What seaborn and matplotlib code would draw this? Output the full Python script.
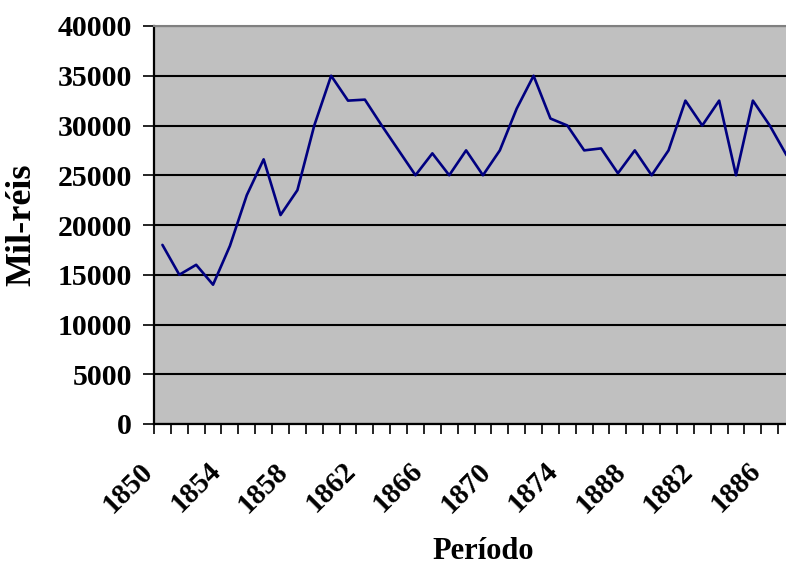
import matplotlib
matplotlib.use("Agg")
import matplotlib.pyplot as plt
import matplotlib.transforms as mtransforms
import numpy as np
import pandas as pd
import seaborn as sns

# Annual values (mil-réis), 1850-1887
anos = [1850, 1851, 1852, 1853, 1854, 1855, 1856, 1857, 1858, 1859,
        1860, 1861, 1862, 1863, 1864, 1865, 1866, 1867, 1868, 1869,
        1870, 1871, 1872, 1873, 1874, 1875, 1876, 1877, 1878, 1879,
        1880, 1881, 1882, 1883, 1884, 1885, 1886, 1887]
valores = [18000, 15000, 16000, 14000, 17900, 23000, 26600, 21000, 23500, 30000,
           35000, 32500, 32600, 30000, 27500, 25000, 27200, 25000, 27500, 25000,
           27500, 31700, 35000, 30700, 30000, 27500, 27700, 25200, 27500, 25000,
           27500, 32500, 30000, 32500, 25000, 32500, 30000, 27000]

# Category labels shown every fourth year
rotulos_pos = [0, 4, 8, 12, 16, 20, 24, 28, 32, 36]
rotulos = ["1850", "1854", "1858", "1862", "1866", "1870", "1874", "1888", "1882", "1886"]
y_ticks = [0, 5000, 10000, 15000, 20000, 25000, 30000, 35000, 40000]

n_categorias = 39  # axis room for 1850-1888

sns.set_style("white")
plt.rcParams["font.family"] = ["Liberation Serif", "DejaVu Serif"]
plt.rcParams["font.weight"] = "bold"
for key in ["text.color", "axes.labelcolor", "xtick.color", "ytick.color"]:
    plt.rcParams[key] = "black"

df = pd.DataFrame({"pos": np.arange(len(anos)), "ano": anos, "valor": valores})

W, H = 786, 566
fig = plt.figure(figsize=(W / 100, H / 100), dpi=100)
left, bottom, top = 154, 424, 26
cat_w = 16.87
ax = fig.add_axes([left / W, (H - bottom) / H, n_categorias * cat_w / W, (bottom - top) / H])
ax.set_facecolor("#C0C0C0")

sns.lineplot(data=df, x="pos", y="valor", color="#000080", linewidth=1.9, ax=ax)

ax.set_xlim(-0.5, n_categorias - 0.5)
ax.set_ylim(0, 40000)

# horizontal gridlines
ax.set_yticks(y_ticks)
ax.set_yticklabels([str(v) for v in y_ticks], fontsize=21.5, fontweight="bold")
ax.yaxis.grid(True, color="black", linewidth=1.5)
ax.xaxis.grid(False)
ax.set_axisbelow(True)

# category boundary ticks (no labels) and labelled year positions
ax.set_xticks(np.arange(-0.5, n_categorias, 1.0))
ax.set_xticklabels([])
ax.set_xticks(rotulos_pos, minor=True)
ax.set_xticklabels(rotulos, minor=True, fontsize=21, fontweight="bold",
                   rotation=45, ha="right", va="top", rotation_mode="anchor")

ax.tick_params(axis="x", which="major", direction="out", length=7.5, width=1.2,
               color="black", bottom=True)
ax.tick_params(axis="x", which="minor", length=0, pad=24, bottom=True)
ax.tick_params(axis="y", which="major", direction="out", length=8, width=1.2,
               color="black", left=True, pad=8)

shift = mtransforms.ScaledTranslation(-23 / 100, 0, fig.dpi_scale_trans)
for lab in ax.xaxis.get_minorticklabels():
    lab.set_transform(lab.get_transform() + shift)

for side in ["left", "bottom"]:
    ax.spines[side].set_color("black")
    ax.spines[side].set_linewidth(1.6)
ax.spines["top"].set_color("#808080")
ax.spines["top"].set_linewidth(1.5)
ax.spines["right"].set_visible(False)

ax.set_xlabel("Período", fontsize=22, fontweight="bold", va="baseline")
ax.set_ylabel("Mil-réis", fontsize=26, fontweight="bold")
ax.xaxis.set_label_coords(0.5, (bottom - 559) / (bottom - top))
ax.yaxis.set_label_coords((38 - left) / (n_categorias * cat_w), 0.5)

fig.savefig("out.png", dpi=100, facecolor="white")
